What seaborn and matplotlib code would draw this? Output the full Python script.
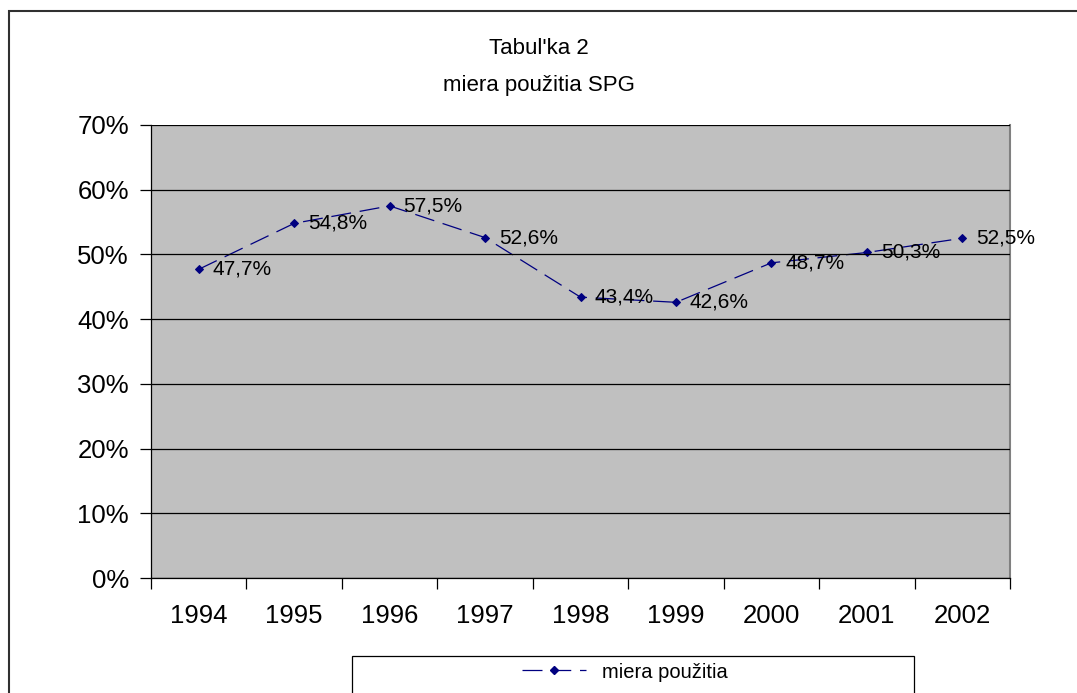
import numpy as np
import pandas as pd
import matplotlib
matplotlib.use("Agg")
import matplotlib.pyplot as plt
from matplotlib.patches import Rectangle
from matplotlib.lines import Line2D
import seaborn as sns

# data
years = ["1994", "1995", "1996", "1997", "1998", "1999", "2000", "2001", "2002"]
usage = [0.477, 0.548, 0.575, 0.526, 0.434, 0.426, 0.487, 0.503, 0.525]
labels = ["47,7%", "54,8%", "57,5%", "52,6%", "43,4%", "42,6%", "48,7%", "50,3%", "52,5%"]
yticks = [0.0, 0.1, 0.2, 0.3, 0.4, 0.5, 0.6, 0.7]
ytick_labels = ["0%", "10%", "20%", "30%", "40%", "50%", "60%", "70%"]

df = pd.DataFrame({"rok": years, "miera": usage})

sns.set_style("white")
plt.rcParams["font.family"] = ["Liberation Sans", "DejaVu Sans"]
plt.rcParams["text.color"] = "black"
plt.rcParams["xtick.color"] = "black"
plt.rcParams["ytick.color"] = "black"

navy = "#000080"

fig = plt.figure(figsize=(10.77, 6.93), dpi=100)
ax = fig.add_axes([151 / 1077, 1 - 578 / 693, 859 / 1077, 453 / 693])
ax.set_facecolor("#C0C0C0")

sns.lineplot(data=df, x="rok", y="miera", sort=False, ax=ax, color=navy,
             linewidth=0.9, marker="D", markersize=4.5, markeredgecolor=navy,
             linestyle=(0, (16, 7)))

for i, (v, t) in enumerate(zip(usage, labels)):
    ax.annotate(t, (i, v), xytext=(10, 0), textcoords="offset points",
                ha="left", va="center", fontsize=15, color="black")

ax.set_xlim(-0.5, len(years) - 0.5)
ax.set_ylim(0, 0.7)
ax.set_yticks(yticks)
ax.set_yticklabels(ytick_labels, fontsize=18.5)
ax.yaxis.grid(True, color="black", linewidth=0.9)
ax.set_axisbelow(False)

# category ticks between categories, labels in the middle (Excel style)
ax.set_xticks(np.arange(-0.5, len(years), 1))
ax.set_xticklabels([])
ax.set_xticks(np.arange(len(years)), minor=True)
ax.set_xticklabels(years, minor=True, fontsize=18.5)
ax.tick_params(axis="x", which="major", bottom=True, direction="out", length=8,
               width=0.9, color="black")
ax.tick_params(axis="x", which="minor", bottom=True, length=0, pad=19)
ax.tick_params(axis="y", left=True, direction="out", length=8, width=0.9,
               color="black", pad=8)
ax.set_xlabel("")
ax.set_ylabel("")

for s in ["left", "bottom"]:
    ax.spines[s].set_color("black")
    ax.spines[s].set_linewidth(0.9)
ax.spines["top"].set_visible(False)
ax.spines["right"].set_color("#808080")
ax.spines["right"].set_linewidth(1.5)

fig.text(0.5, 1 - 48 / 693, "Tabul'ka 2", ha="center", va="center", fontsize=16)
fig.text(0.5, 1 - 86 / 693, "miera použitia SPG", ha="center", va="center", fontsize=16)

# outer chart border
fig.patches.append(Rectangle((9 / 1077, -0.1), 1.2, 1 - 11 / 693 + 0.1,
                             transform=fig.transFigure, fill=False,
                             edgecolor="#303030", linewidth=1.5))
# legend box
fig.patches.append(Rectangle((352 / 1077, -0.1), (914 - 352) / 1077, 0.1 + 1 - 656 / 693,
                             transform=fig.transFigure, fill=False,
                             edgecolor="black", linewidth=0.9))
handle = Line2D([], [], color=navy, linewidth=0.9, marker="D", markersize=4.5,
                linestyle=(0, (16, 7)))
fig.legend([handle], ["miera použitia"], loc="center",
           bbox_to_anchor=(0.58, 1 - 672 / 693), frameon=False, fontsize=14.5,
           handlelength=3.2)

fig.savefig("out.png", dpi=100)
